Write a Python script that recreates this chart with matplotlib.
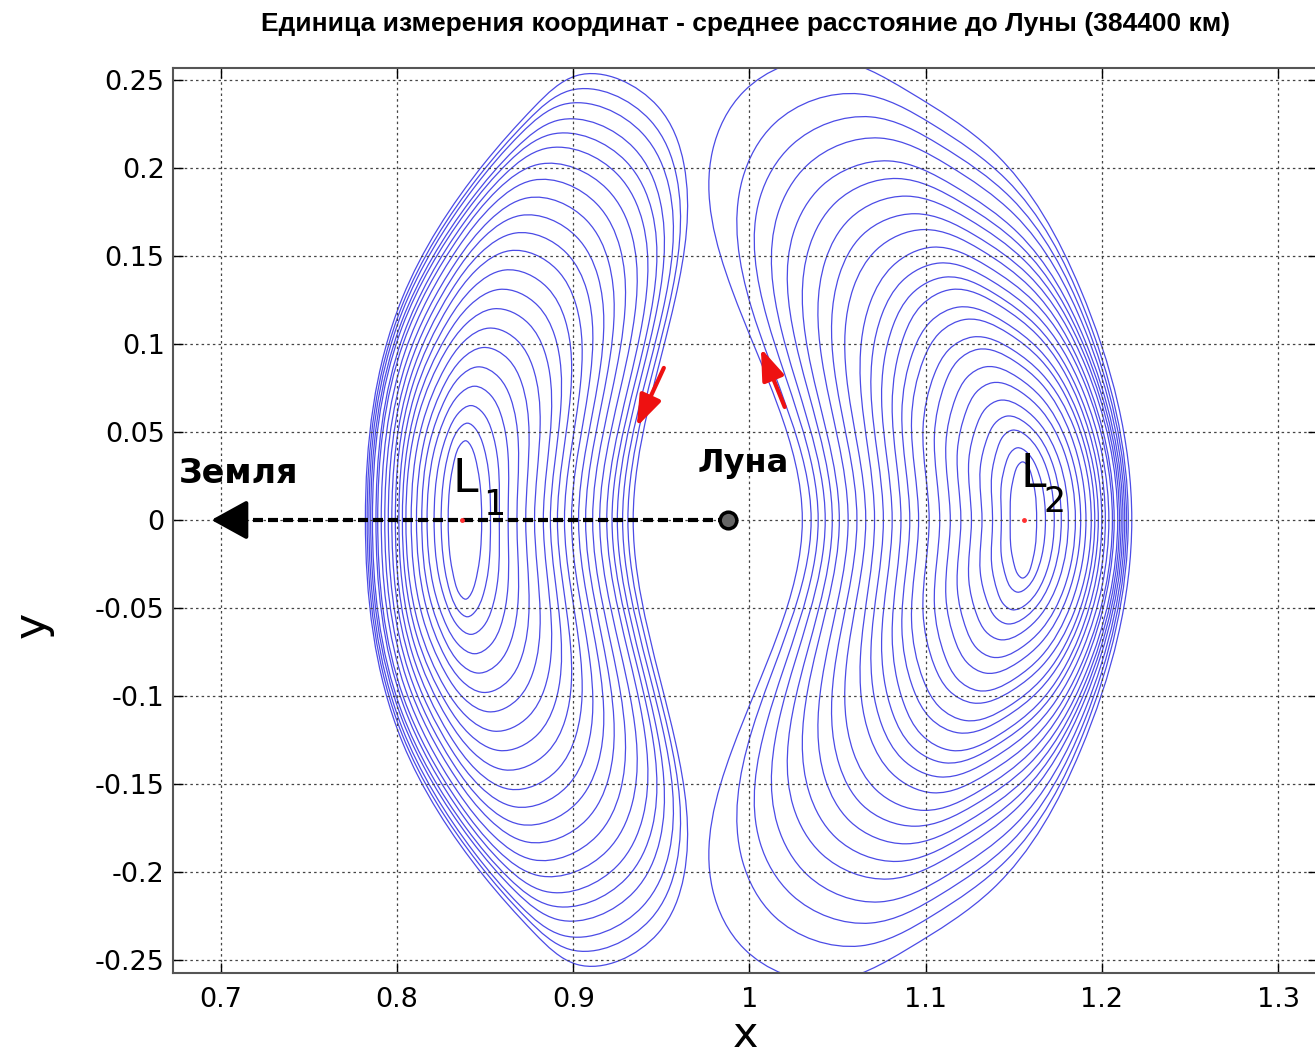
import numpy as np
import matplotlib.pyplot as plt
from matplotlib.path import Path
from matplotlib.patches import PathPatch, FancyArrowPatch

plt.rcParams['font.family'] = ['DejaVu Sans']

# Points on the Earth-Moon line (unit = mean Earth-Moon distance)
MOON_X = 0.98785
L1_X = 0.83692
L2_X = 1.15568
EARTH_TIP_X = 0.693

# Side points of each orbit are read at these fractions of its height
LEVELS = [0.5, 0.8, 0.93]

# L1 family, inner -> outer
l1_ytop = [0.045, 0.055, 0.065, 0.076, 0.087, 0.098, 0.109, 0.120, 0.131, 0.142, 0.153,
           0.163, 0.173, 0.183, 0.193, 0.202, 0.211, 0.219, 0.227, 0.236, 0.244, 0.2525]
l1_xtop = [0.839, 0.840, 0.842, 0.844, 0.846, 0.849, 0.852, 0.855, 0.858, 0.861, 0.864,
           0.867, 0.870, 0.874, 0.877, 0.880, 0.884, 0.887, 0.891, 0.894, 0.898, 0.902]
l1_xl0 = [0.829, 0.825, 0.821, 0.817, 0.814, 0.811, 0.808, 0.805, 0.803, 0.801, 0.799,
          0.797, 0.795, 0.793, 0.791, 0.789, 0.788, 0.786, 0.785, 0.784, 0.783, 0.782]
l1_xl50 = [0.8303, 0.8270, 0.8238, 0.8207, 0.8184, 0.8164, 0.8143, 0.8123, 0.8111, 0.8099, 0.8088,
           0.8078, 0.8067, 0.8058, 0.8048, 0.8037, 0.8037, 0.8028, 0.8029, 0.8028, 0.8029, 0.8030]
l1_xl80 = [0.8330, 0.8310, 0.8297, 0.8284, 0.8278, 0.8276, 0.8276, 0.8276, 0.8283, 0.8291, 0.8299,
           0.8308, 0.8318, 0.8333, 0.8344, 0.8357, 0.8379, 0.8393, 0.8417, 0.8437, 0.8463, 0.8490]
l1_xl93 = [0.8353, 0.8346, 0.8346, 0.8347, 0.8352, 0.8365, 0.8379, 0.8394, 0.8412, 0.8432, 0.8452,
           0.8473, 0.8495, 0.8525, 0.8549, 0.8573, 0.8610, 0.8636, 0.8673, 0.8702, 0.8741, 0.8780]
l1_xr0 = [0.848, 0.853, 0.858, 0.863, 0.868, 0.873, 0.878, 0.883, 0.887, 0.891, 0.895,
          0.899, 0.903, 0.907, 0.911, 0.915, 0.919, 0.922, 0.925, 0.928, 0.931, 0.934]
l1_xr50 = [0.8468, 0.8519, 0.8573, 0.8629, 0.8688, 0.8749, 0.8812, 0.8876, 0.8930, 0.8984, 0.9040,
           0.9096, 0.9153, 0.9207, 0.9265, 0.9324, 0.9379, 0.9424, 0.9462, 0.9506, 0.9544, 0.9580]
l1_xr80 = [0.8442, 0.8484, 0.8533, 0.8586, 0.8643, 0.8705, 0.8769, 0.8836, 0.8894, 0.8954, 0.9015,
           0.9077, 0.9140, 0.9201, 0.9266, 0.9333, 0.9395, 0.9447, 0.9492, 0.9544, 0.9586, 0.9628]
l1_xr93 = [0.8420, 0.8450, 0.8490, 0.8533, 0.8579, 0.8633, 0.8688, 0.8746, 0.8798, 0.8852, 0.8906,
           0.8962, 0.9018, 0.9076, 0.9134, 0.9193, 0.9252, 0.9300, 0.9346, 0.9394, 0.9438, 0.9481]

# L2 family, inner -> outer
l2_ytop = [0.033, 0.041, 0.051, 0.059, 0.068, 0.078, 0.087, 0.097, 0.104, 0.114, 0.121, 0.131,
           0.138, 0.146, 0.155, 0.165, 0.174, 0.184, 0.194, 0.204, 0.217, 0.229, 0.242, 0.262]
l2_xtop = [1.155, 1.152, 1.149, 1.146, 1.142, 1.138, 1.134, 1.130, 1.127, 1.123, 1.119, 1.115,
           1.111, 1.108, 1.104, 1.099, 1.094, 1.089, 1.084, 1.079, 1.074, 1.069, 1.063, 1.045]
l2_xl0 = [1.148, 1.143, 1.138, 1.132, 1.126, 1.120, 1.114, 1.108, 1.102, 1.096, 1.091, 1.086,
          1.081, 1.076, 1.071, 1.066, 1.061, 1.056, 1.051, 1.047, 1.043, 1.039, 1.035, 1.030]
l2_xl50 = [1.1485, 1.1430, 1.1375, 1.1310, 1.1245, 1.1180, 1.1115, 1.1050, 1.0985, 1.0920, 1.0865,
           1.0810, 1.0750, 1.0690, 1.0630, 1.0550, 1.0480, 1.0410, 1.0330, 1.0260, 1.0180, 1.0100,
           1.0010, 0.9900]
l2_xl80 = [1.1505, 1.1457, 1.1408, 1.1352, 1.1292, 1.1232, 1.1171, 1.1110, 1.1051, 1.0988, 1.0933,
           1.0878, 1.0815, 1.0752, 1.0687, 1.0590, 1.0510, 1.0430, 1.0340, 1.0250, 1.0160, 1.0060,
           0.9960, 0.9790]
l2_xl93 = [1.1522, 1.1481, 1.1439, 1.1393, 1.1340, 1.1287, 1.1234, 1.1180, 1.1131, 1.1076, 1.1026,
           1.0975, 1.0920, 1.0867, 1.0811, 1.0720, 1.0640, 1.0570, 1.0490, 1.0410, 1.0330, 1.0240,
           1.0140, 0.9970]
l2_xr0 = [1.163, 1.168, 1.173, 1.177, 1.181, 1.185, 1.188, 1.191, 1.194, 1.196, 1.198, 1.200,
          1.202, 1.204, 1.206, 1.207, 1.209, 1.210, 1.211, 1.212, 1.213, 1.214, 1.215, 1.217]
l2_xr50 = [1.1620, 1.1659, 1.1698, 1.1728, 1.1757, 1.1785, 1.1804, 1.1823, 1.1844, 1.1854, 1.1864,
           1.1874, 1.1883, 1.1894, 1.1903, 1.1902, 1.1909, 1.1908, 1.1906, 1.1904, 1.1902, 1.1900,
           1.1896, 1.1879]
l2_xr80 = [1.1598, 1.1616, 1.1633, 1.1644, 1.1650, 1.1656, 1.1656, 1.1655, 1.1658, 1.1651, 1.1644,
           1.1636, 1.1628, 1.1624, 1.1615, 1.1596, 1.1583, 1.1563, 1.1543, 1.1523, 1.1503, 1.1482,
           1.1456, 1.1381]
l2_xr93 = [1.1580, 1.1578, 1.1577, 1.1570, 1.1557, 1.1543, 1.1524, 1.1505, 1.1493, 1.1469, 1.1445,
           1.1420, 1.1395, 1.1376, 1.1350, 1.1313, 1.1278, 1.1240, 1.1202, 1.1162, 1.1123, 1.1082,
           1.1034, 1.0899]

# Direction arrows on the outer orbits (tail, tip)
arrow_l1 = [(0.9514, 0.0864), (0.936, 0.053)]
arrow_l2 = [(1.020, 0.0642), (1.0065, 0.0975)]

xticks = [0.7, 0.8, 0.9, 1.0, 1.1, 1.2, 1.3]
xticklabels = ['0.7', '0.8', '0.9', '1', '1.1', '1.2', '1.3']
yticks = [-0.25, -0.2, -0.15, -0.1, -0.05, 0, 0.05, 0.1, 0.15, 0.2, 0.25]
yticklabels = ['-0.25', '-0.2', '-0.15', '-0.1', '-0.05', '0', '0.05', '0.1', '0.15', '0.2', '0.25']


def orbit_path(h, xtop, xl0, xl, xr0, xr):
    # closed loop through the read points, mirrored about y = 0,
    # drawn as a periodic C2 spline in Bezier form
    up = [(xr0, 0)] + [(x, f * h) for x, f in zip(xr, LEVELS)] + [(xtop, h)] \
        + [(x, f * h) for x, f in zip(xl[::-1], LEVELS[::-1])] + [(xl0, 0)]
    low = [(x, -y) for x, y in up[-2:0:-1]]
    pts = np.array(up + low)
    n = len(pts)
    seg = np.hypot(*(np.roll(pts, -1, axis=0) - pts).T)   # seg[i]: P_i -> P_i+1
    A = np.zeros((n, n))
    B = np.zeros((n, 2))
    for i in range(n):
        hp, hn = seg[i - 1], seg[i]
        A[i, i - 1] += hn
        A[i, i] += 2 * (hp + hn)
        A[i, (i + 1) % n] += hp
        B[i] = 3 * (hn / hp * (pts[i] - pts[i - 1]) + hp / hn * (pts[(i + 1) % n] - pts[i]))
    D = np.linalg.solve(A, B)
    verts = [pts[0]]
    codes = [Path.MOVETO]
    for i in range(n):
        j = (i + 1) % n
        verts += [pts[i] + D[i] * seg[i] / 3, pts[j] - D[j] * seg[i] / 3, pts[j]]
        codes += [Path.CURVE4] * 3
    return Path(verts, codes)


fig = plt.figure(figsize=(13.15, 10.59), dpi=100)
ax = fig.add_axes([173 / 1315, 1 - 973 / 1059, 1145 / 1315, 905 / 1059])

orbit_color = '#4b4be6'
for i in range(len(l1_ytop)):
    p = orbit_path(l1_ytop[i], l1_xtop[i], l1_xl0[i], [l1_xl50[i], l1_xl80[i], l1_xl93[i]],
                   l1_xr0[i], [l1_xr50[i], l1_xr80[i], l1_xr93[i]])
    ax.add_patch(PathPatch(p, fill=False, ec=orbit_color, lw=0.9))
for i in range(len(l2_ytop)):
    p = orbit_path(l2_ytop[i], l2_xtop[i], l2_xl0[i], [l2_xl50[i], l2_xl80[i], l2_xl93[i]],
                   l2_xr0[i], [l2_xr50[i], l2_xr80[i], l2_xr93[i]])
    ax.add_patch(PathPatch(p, fill=False, ec=orbit_color, lw=0.9))

# Moon -> Earth direction
ax.plot([MOON_X, EARTH_TIP_X + 0.012], [0, 0], color='k', lw=3, dashes=(2.4, 1.2), zorder=5)
ax.add_patch(FancyArrowPatch((EARTH_TIP_X + 0.02, 0), (EARTH_TIP_X, 0),
                             arrowstyle='-|>,head_length=1.0,head_width=0.55',
                             mutation_scale=22, color='k', lw=3, zorder=6))
ax.plot([MOON_X], [0], 'o', ms=12, mfc='#666666', mec='k', mew=2.5, zorder=7)
ax.plot([L1_X, L2_X], [0, 0], 'o', ms=2.5, color='#ff3030', zorder=7)

for tail, tip in [arrow_l1, arrow_l2]:
    ax.add_patch(FancyArrowPatch(tail, tip, arrowstyle='-|>,head_length=1.0,head_width=0.36',
                                 mutation_scale=19, color='#ee1111', lw=3, zorder=6,
                                 shrinkA=0, shrinkB=0))

ax.text(0.676, 0.021, 'Земля', fontsize=24, fontweight='bold', va='baseline')
ax.text(0.9703, 0.0273, 'Луна', fontsize=23, fontweight='bold', va='baseline')
ax.text(0.8314, 0.016, 'L', fontsize=33, va='baseline')
ax.text(0.8486, 0.0028, '1', fontsize=25, va='baseline')
ax.text(1.1537, 0.0189, 'L', fontsize=33, va='baseline')
ax.text(1.1670, 0.0047, '2', fontsize=25, va='baseline')

ax.set_xlim(0.6728, 1.3227)
ax.set_ylim(-0.2574, 0.2568)
ax.set_xticks(xticks)
ax.set_xticklabels(xticklabels)
ax.set_yticks(yticks)
ax.set_yticklabels(yticklabels)
ax.tick_params(direction='in', length=7, width=1, top=True, right=True, labelsize=19.5)
ax.tick_params(axis='x', pad=10)
ax.tick_params(axis='y', pad=6)
ax.grid(True, color='#444444', lw=0.9, dashes=(2, 2.5))
for s in ax.spines.values():
    s.set_color('#555555')
    s.set_linewidth(1.5)

ax.set_xlabel('x', fontsize=31)
ax.xaxis.set_label_coords(0.5, -0.068)
ax.xaxis.label.set_va('center')
ax.set_ylabel('y', fontsize=32, rotation=90)
ax.yaxis.set_label_coords(-0.123, 0.3845)
ax.yaxis.label.set_va('center')

ax.set_title('Единица измерения координат - среднее расстояние до Луны (384400 км)',
             fontsize=19, fontweight='bold', family=['Liberation Sans', 'DejaVu Sans'],
             pad=27)

fig.savefig('out.png', dpi=100)
